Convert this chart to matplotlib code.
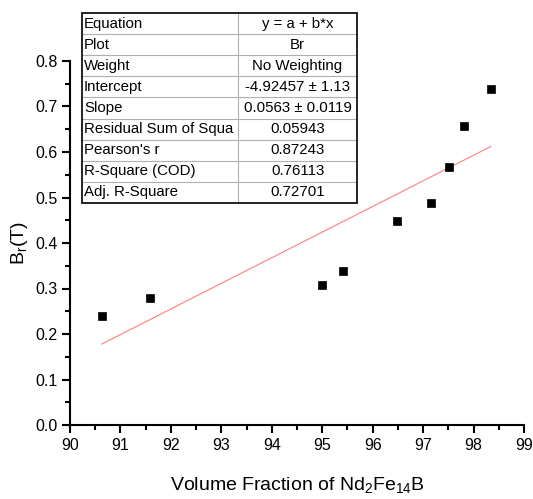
import numpy as np
import matplotlib.pyplot as plt
from matplotlib.lines import Line2D

plt.rcParams['font.family'] = ['Liberation Sans', 'DejaVu Sans']
plt.rcParams['mathtext.fontset'] = 'custom'
plt.rcParams['mathtext.rm'] = 'Liberation Sans'
plt.rcParams['mathtext.it'] = 'Liberation Sans'

# measured points
vol_frac = [90.63, 91.59, 95.0, 95.41, 96.48, 97.15, 97.51, 97.82, 98.34]
br = [0.240, 0.280, 0.308, 0.339, 0.449, 0.489, 0.568, 0.658, 0.739]

# linear fit result
intercept = -4.92457
slope = 0.0563

table_keys = ["Equation", "Plot", "Weight", "Intercept", "Slope",
              "Residual Sum of Squa", "Pearson's r", "R-Square (COD)",
              "Adj. R-Square"]
table_vals = ["y = a + b*x", "Br", "No Weighting", "-4.92457 \u00b1 1.13",
              "0.0563 \u00b1 0.0119", "0.05943", "0.87243", "0.76113",
              "0.72701"]

W, H = 533, 499
fig = plt.figure(figsize=(W / 100, H / 100), dpi=100)
ax = fig.add_axes([70 / W, 1 - 425 / H, (524 - 70) / W, (425 - 61) / H])

ax.plot(vol_frac, br, 's', color='black', markersize=6, mew=0.5, zorder=3)
xf = np.array([min(vol_frac), max(vol_frac)])
ax.plot(xf, intercept + slope * xf, color='#ff7f7f', lw=0.8)

ax.set_xlim(90, 99)
ax.set_ylim(0, 0.8)
ax.set_xticks(np.arange(90, 100, 1))
ax.set_xticks(np.arange(90.5, 99, 1), minor=True)
ax.set_yticks(np.arange(0, 0.81, 0.1))
ax.set_yticks(np.arange(0.05, 0.8, 0.1), minor=True)
ax.set_yticklabels([f"{v:.1f}" for v in np.arange(0, 0.81, 0.1)])
ax.spines['top'].set_visible(False)
ax.spines['right'].set_visible(False)
for s in ('left', 'bottom'):
    ax.spines[s].set_linewidth(1.5)
ax.tick_params(which='major', direction='out', length=6, width=1.5,
               labelsize=11.5, pad=3)
ax.tick_params(which='minor', direction='out', length=3.5, width=1.5)

ax.set_xlabel("Volume Fraction of Nd$_2$Fe$_{14}$B", fontsize=14, labelpad=16)
ax.set_ylabel("B$_r$(T)", fontsize=14, labelpad=4)

# fit report table (pixel layout)
def fx(px):
    return px / W

def fy(py):
    return 1 - py / H

left, mid, right = 82, 238, 357
top, bottom = 13, 203
n = len(table_keys)
rh = (bottom - top) / n
fig.patches.append(plt.Rectangle((fx(left), fy(bottom)), fx(right) - fx(left),
                                 fy(top) - fy(bottom), transform=fig.transFigure,
                                 facecolor='white', edgecolor='none', zorder=4))
for i in range(1, n):
    y = top + i * rh
    fig.lines.append(Line2D([fx(left), fx(right)], [fy(y), fy(y)],
                            transform=fig.transFigure, color='#b0b0b0',
                            lw=0.8, zorder=5))
fig.lines.append(Line2D([fx(mid), fx(mid)], [fy(top), fy(bottom)],
                        transform=fig.transFigure, color='#b0b0b0', lw=0.8,
                        zorder=5))
fig.patches.append(plt.Rectangle((fx(left), fy(bottom)), fx(right) - fx(left),
                                 fy(top) - fy(bottom), transform=fig.transFigure,
                                 facecolor='none', edgecolor='black', lw=1.2,
                                 zorder=6))
for i, (k, v) in enumerate(zip(table_keys, table_vals)):
    yc = fy(top + (i + 0.5) * rh)
    fig.text(fx(left + 2), yc, k, ha='left', va='center', fontsize=10.8,
             zorder=7)
    fig.text(fx((mid + right) / 2), yc, v, ha='center', va='center',
             fontsize=10.8, zorder=7)

fig.savefig("out.png", dpi=100)
